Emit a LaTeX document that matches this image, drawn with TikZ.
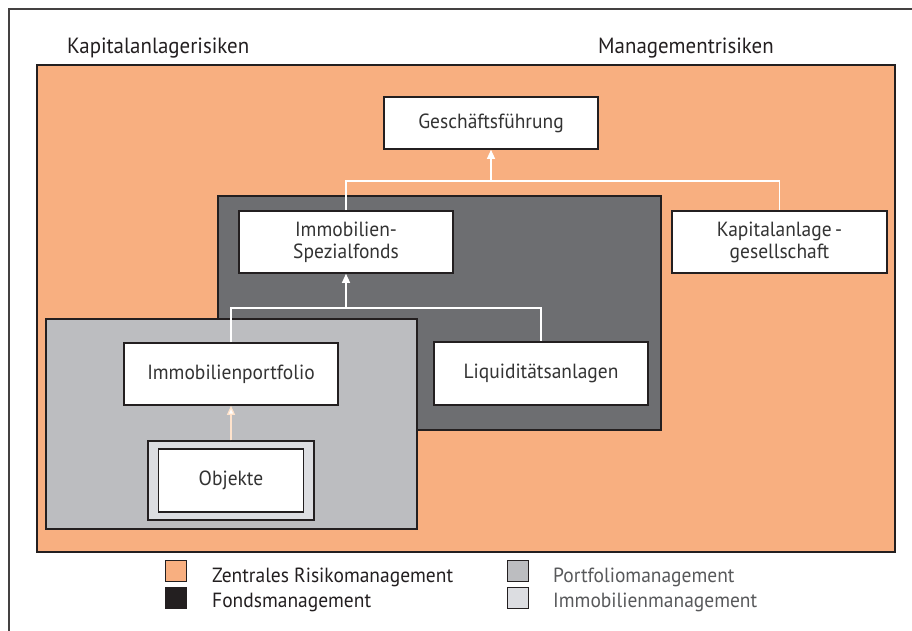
\documentclass[tikz,border=0pt]{standalone}
\usepackage{fontspec}
\setmainfont[FakeStretch=0.95]{PT Sans}
\usetikzlibrary{arrows.meta}
\definecolor{orng}{HTML}{F8AF80}
\definecolor{dgray}{HTML}{6D6E71}
\definecolor{lgray}{HTML}{BCBDC0}
\definecolor{xlgray}{HTML}{DCDDE1}
\definecolor{bord}{HTML}{231F20}
\definecolor{txt}{HTML}{333333}
\definecolor{ltxt}{HTML}{58595B}
\definecolor{palor}{HTML}{FFE3CC}
\tikzset{
  panel/.style={draw=bord, line width=1.5pt},
  box/.style={draw=bord, fill=white, line width=1.6pt, text=txt, align=center,
    font=\fontsize{20.5}{22}\selectfont, inner sep=0pt},
  wline/.style={draw=white, line width=1.3pt},
  warrow/.style={draw=white, line width=1.3pt, -{Triangle[width=8pt,length=9pt,fill=white]}},
  oarrow/.style={draw=palor, line width=1.3pt, -{Triangle[width=8pt,length=9pt,fill=white]}},
  legtxt/.style={anchor=base west, inner sep=0pt, font=\fontsize{20.5}{22}\selectfont},
  legsq/.style={draw=bord, line width=1pt, minimum width=21pt, minimum height=21pt, inner sep=0pt},
  title/.style={anchor=base west, inner sep=0pt, text=bord, font=\fontsize{22}{24}\selectfont}
}
\begin{document}
\begin{tikzpicture}[x=1pt,y=-1pt]
\useasboundingbox (0,0) rectangle (912,631);
\fill[white] (0,0) rectangle (912,631);
% outer frame
\draw[draw=bord!85, line width=1.5pt] (9,631) -- (9,9) -- (912,9);
% titles
\node[title] (t1) at (67,54) {Kapitalanlagerisiken};
\node[title] (t2) at (598,54) {Managementrisiken};
% panels
\draw[panel, fill=orng] (37,65) rectangle (895,552);
\draw[panel, fill=dgray] (218,196) rectangle (661,430);
\draw[panel, fill=lgray] (46,319) rectangle (417,529);
% boxes
\node[box, minimum width=214pt, minimum height=52pt] (gf) at (491,123) {Geschäftsführung};
\node[box, minimum width=215pt, minimum height=62pt] (kg) at (779.5,242) {Kapitalanlage\,-\\gesellschaft};
\node[box, minimum width=214pt, minimum height=62pt] (sf) at (346,242) {Immobilien-\\Spezialfonds};
\node[box, minimum width=214pt, minimum height=63pt] (lq) at (541,373.5) {Liquiditätsanlagen};
\node[box, minimum width=214pt, minimum height=62pt] (ip) at (231,374) {Immobilienportfolio};
\node[draw=bord, fill=xlgray, line width=1.5pt, minimum width=166pt, minimum height=79pt, inner sep=0pt] (oo) at (231,480.5) {};
\node[box, minimum width=145pt, minimum height=63pt] (ob) at (231,480.5) {Objekte};
% connectors
\coordinate (j1) at (491,181);
\coordinate (j2) at (346,308);
\draw[wline] (sf.north) |- (j1) -| (kg.north);
\draw[warrow] (j1) -- (gf.south);
\draw[wline] (ip.north) |- (j2) -| (lq.north);
\draw[warrow] (j2) -- (sf.south);
\draw[oarrow] (oo.north) -- (ip.south);
% legend
\node[legsq, fill=orng] (l1) at (176,571) {};
\node[legsq, fill=bord] (l2) at (176,597.5) {};
\node[legsq, fill=lgray] (l3) at (518,571) {};
\node[legsq, fill=xlgray] (l4) at (518,597.5) {};
\node[legtxt, text=bord] (lt1) at (212,582) {Zentrales Risikomanagement};
\node[legtxt, text=bord] (lt2) at (212,607) {Fondsmanagement};
\node[legtxt, text=ltxt] (lt3) at (553,582) {Portfoliomanagement};
\node[legtxt, text=ltxt] (lt4) at (553,607) {Immobilienmanagement};
\end{tikzpicture}
\end{document}
